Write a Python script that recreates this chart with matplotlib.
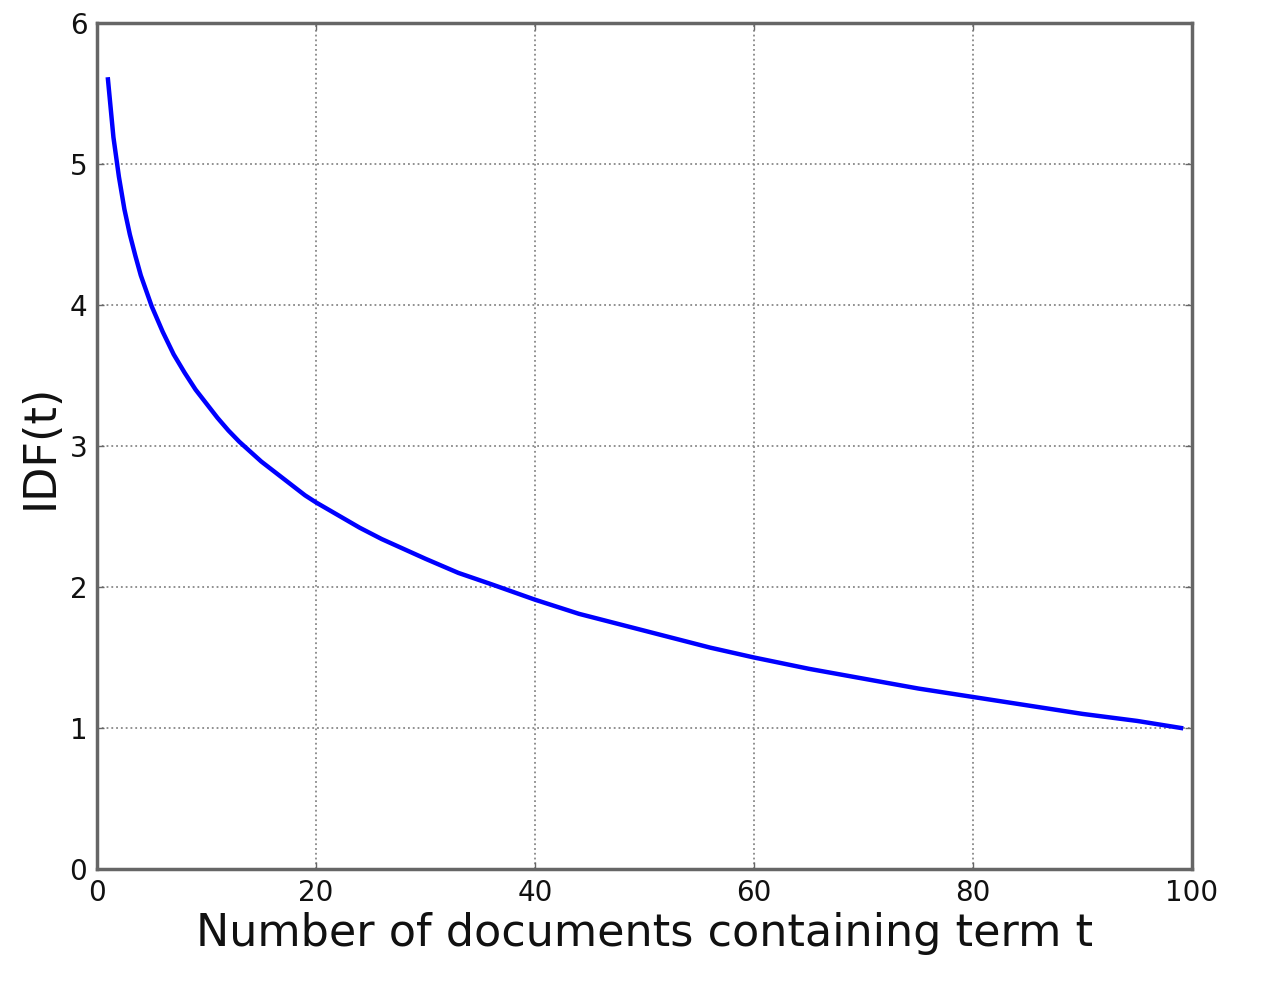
import matplotlib
matplotlib.use("Agg")
import matplotlib.pyplot as plt

doc_counts = [1, 1.5, 2, 2.5, 3, 3.5, 4, 5, 6, 7, 8, 9, 10, 11, 12, 13, 14, 15, 16,
              17, 18, 19, 20, 22, 24, 26, 28, 30, 33, 36, 40, 44, 48, 52, 56, 60,
              65, 70, 75, 80, 85, 90, 95, 99]
idf_values = [5.60, 5.19, 4.91, 4.68, 4.50, 4.35, 4.21, 3.99, 3.81, 3.65, 3.52,
              3.40, 3.30, 3.20, 3.11, 3.03, 2.96, 2.89, 2.83, 2.77, 2.71, 2.65,
              2.60, 2.51, 2.42, 2.34, 2.27, 2.20, 2.10, 2.02, 1.91, 1.81, 1.73,
              1.65, 1.57, 1.50, 1.42, 1.35, 1.28, 1.22, 1.16, 1.10, 1.05, 1.00]
x_ticks = [0, 20, 40, 60, 80, 100]
y_ticks = [0, 1, 2, 3, 4, 5, 6]

plt.rcParams['font.family'] = ['DejaVu Sans']
fig = plt.figure(figsize=(12.63, 10), dpi=100)
ax = fig.add_axes([0.0768, 0.131, 0.867, 0.846])
ax.plot(doc_counts, idf_values, color='#0000ff', linewidth=3.2,
        solid_joinstyle='round')
ax.set_xlim(0, 100)
ax.set_ylim(0, 6)
ax.set_xticks(x_ticks)
ax.set_yticks(y_ticks)
ax.grid(True, linestyle=':', color='#888888', linewidth=1.3)
for s in ax.spines.values():
    s.set_color('#666666')
    s.set_linewidth(2.5)
ax.tick_params(direction='in', length=5, width=1, colors='#666666',
               labelcolor='#111111', labelsize=20, top=True, right=True, pad=7)
ax.set_xlabel('Number of documents containing term t', fontsize=32,
              color='#111111', labelpad=4)
ax.set_ylabel('IDF(t)', fontsize=32, color='#111111', labelpad=6)
fig.savefig('out.png', dpi=100)
